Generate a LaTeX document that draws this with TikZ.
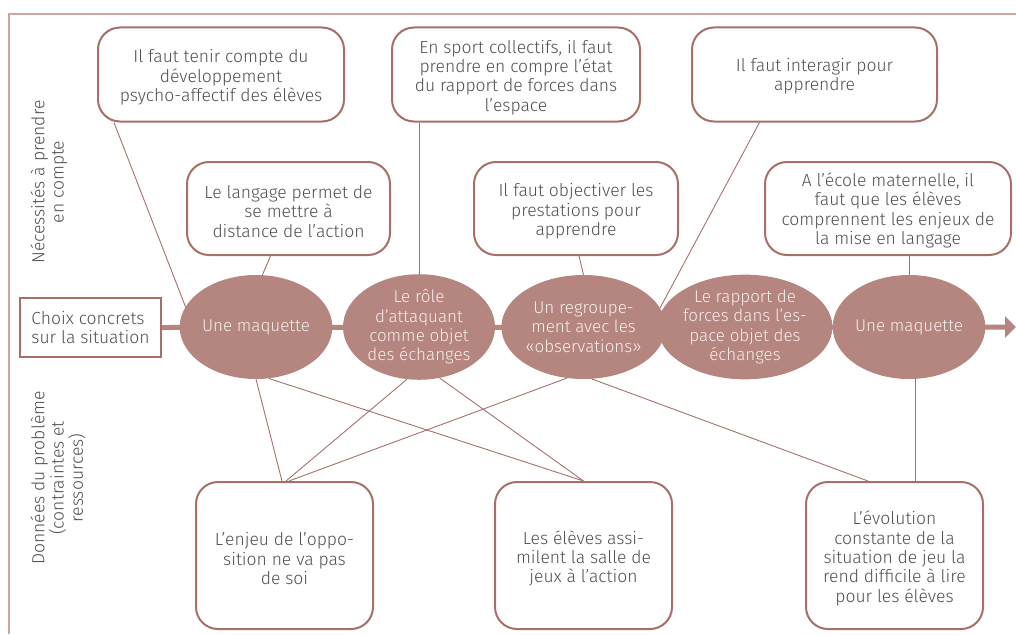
\documentclass[tikz,border=0pt]{standalone}
\usepackage{fontspec}
\setmainfont{Fira Sans}[UprightFont={* Light}]
\usetikzlibrary{shapes.geometric,arrows.meta,backgrounds}
\definecolor{framec}{HTML}{CFA5A0}
\definecolor{boxc}{HTML}{A86E68}
\definecolor{ellc}{HTML}{B5857F}
\definecolor{txt}{HTML}{505050}
\definecolor{etxt}{HTML}{F7EEEC}
\definecolor{linkc}{HTML}{A8706A}
\begin{document}
\begin{tikzpicture}[x=1pt,y=-1pt,
  font=\fontsize{17.5}{19.3}\selectfont,
  box/.style={draw=boxc, line width=2pt, rounded corners=22pt, inner sep=0pt},
  btext/.style={align=center, text=txt, inner sep=0pt},
  ell/.style={ellipse, fill=ellc, text=etxt, align=center, minimum width=152pt, minimum height=104pt, inner sep=0pt, font=\fontsize{17}{19.3}\selectfont},
  link/.style={draw=linkc, line width=0.9pt},
  side/.style={rotate=90, align=center, text=txt}]
\useasboundingbox (0,0) rectangle (1016,634);
\draw[framec, line width=1.5pt] (1016,14) -- (9,14) -- (9,634);

% top boxes
\node[box, minimum width=246pt, minimum height=94pt] (b1) at (221,74.5) {};
\node[btext] (b1t) at ([yshift=-3pt]b1.center) {Il faut tenir compte du\\développement\\psycho-affectif des élèves};
\node[box, minimum width=248pt, minimum height=94pt] (b2) at (516,74.5) {};
\node[btext] (b2t) at ([yshift=-3pt]b2.center) {En sport collectifs, il faut\\prendre en compre l’état\\du rapport de forces dans\\l’espace};
\node[box, minimum width=245pt, minimum height=94pt] (b3) at (814.5,74.5) {};
\node[btext] (b3t) at ([yshift=-2pt]b3.center) {Il faut interagir pour\\apprendre};
\node[box, minimum width=203pt, minimum height=93pt] (b4) at (288.5,208.5) {};
\node[btext] (b4t) at ([yshift=-3pt]b4.center) {Le langage permet de\\se mettre à\\distance de l’action};
\node[box, minimum width=204pt, minimum height=93pt] (b5) at (576,208.5) {};
\node[btext] (b5t) at ([yshift=-3pt]b5.center) {Il faut objectiver les\\prestations pour\\apprendre};
\node[box, minimum width=246pt, minimum height=93pt] (b6) at (888,208.5) {};
\node[btext] (b6t) at ([yshift=-2pt]b6.center) {A l’école maternelle, il\\faut que les élèves\\comprennent les enjeux de\\la mise en langage};

% bottom boxes
\node[box, minimum width=177pt, minimum height=147pt] (b7) at (284.5,555.5) {};
\node[btext] (b7t) at ([yshift=-3pt]b7.center) {L’enjeu de l’oppo-\\sition ne va pas\\de soi};
\node[box, minimum width=177pt, minimum height=147pt] (b8) at (583.5,555.5) {};
\node[btext] (b8t) at ([yshift=-3pt]b8.center) {Les élèves assi-\\milent la salle de\\jeux à l’action};
\node[box, minimum width=177pt, minimum height=147pt] (b9) at (894.5,555.5) {};
\node[btext] (b9t) at ([yshift=-3pt]b9.center) {L’évolution\\constante de la\\situation de jeu la\\rend difficile à lire\\pour les élèves};

% side labels
\node[side] (lab1) at (49,182) {Nécessités à prendre\\en compte};
\node[side] (lab2) at (58,478) {Données du problème\\(contraintes et\\ressources)};

% choice box
\node[draw=boxc, line width=2pt, minimum width=141pt, minimum height=59pt, align=left, text=txt, inner sep=0pt] (choix) at (90.5,327.5) {Choix concrets\\sur la situation};

% ellipses
\node[ell] (e1) at (256,327) {Une maquette};
\node[ell] (e2) at (419,327) {Le rôle\\d’attaquant\\comme objet\\des échanges};
\node[ell] (e3) at (583.5,327) {Un regroupe-\\ment avec les\\«observations»};
\node[ell] (e4) at (745,327) {Le rapport de\\forces dans l’es-\\pace objet des\\échanges};
\node[ell] (e5) at (909,327) {Une maquette};

\coordinate (aend) at (1016,327);
\begin{pgfonlayer}{background}
\draw[ellc, line width=5pt, -{Triangle[length=11pt,width=21pt]}] (choix.east) -- (aend);
\end{pgfonlayer}

% upper connectors
\draw[link] ([xshift=17pt]b1.south west) -- (e1.164);
\draw[link] ([xshift=-18pt]b4.south) -- (e1.83);
\draw[link] (b2.south -| e2.north) -- (e2.north);
\draw[link] ([xshift=3pt]b5.south) -- (e3.north);
\draw[link] ([xshift=-55pt]b3.south) -- (e3.14);
\draw[link] (b6.south -| e5.north) -- (e5.north);

% lower connectors
\draw[link] (e1.south) -- ([xshift=-2.5pt]b7.north);
\draw[link] (e1.-76) -- (b8.north);
\draw[link] (e2.-103) -- ([xshift=1.5pt]b7.north);
\draw[link] (e2.-68) -- (b8.north);
\draw[link] (e3.-108) -- ([xshift=4.5pt]b7.north);
\draw[link] (e3.-81) -- ([xshift=-26.5pt]b9.north);
\draw[link] ([xshift=6pt]e5.south) -- ([xshift=6pt]e5.south |- b9.north);
\end{tikzpicture}
\end{document}
